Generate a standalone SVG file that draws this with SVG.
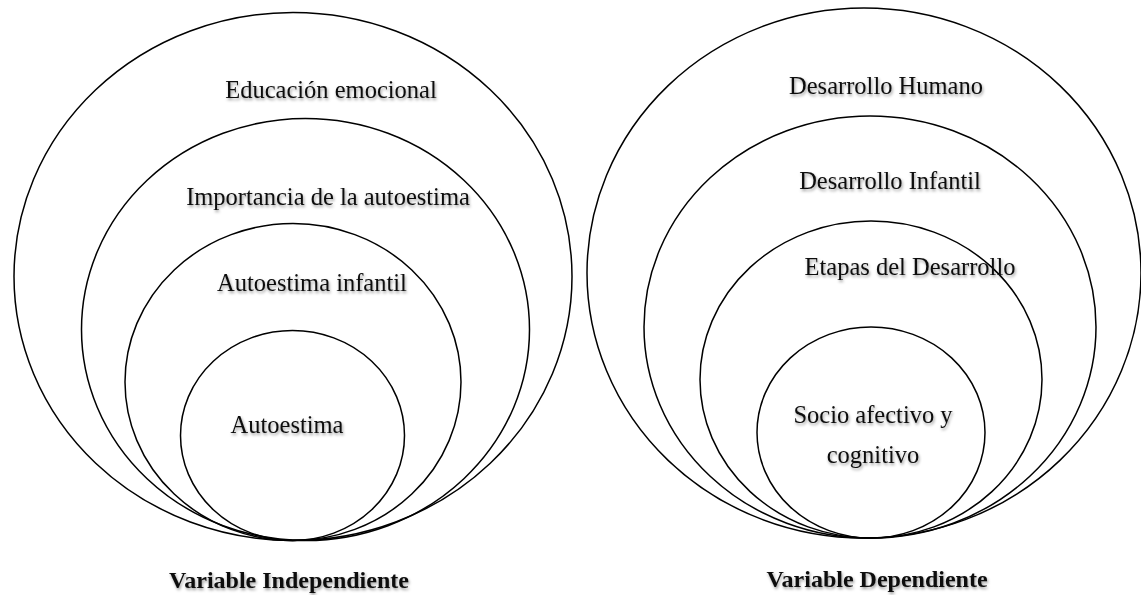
<svg xmlns="http://www.w3.org/2000/svg" width="1141" height="595" viewBox="0 0 1141 595">
<defs>
<style>
.ring{fill:none;stroke:#000;stroke-width:1.5}
.t{font-family:"Liberation Serif","Times New Roman",serif;font-size:24.5px;fill:#111;text-anchor:middle;filter:url(#sh)}
.lbl{font-family:"Liberation Serif","Times New Roman",serif;font-size:24px;font-weight:bold;fill:#111;text-anchor:middle;filter:url(#sh)}
</style>
<filter id="sh" x="-10%" y="-30%" width="120%" height="170%">
<feDropShadow dx="1" dy="2" stdDeviation="1.5" flood-color="#000" flood-opacity="0.4"/>
</filter>
</defs>
<rect width="1141" height="595" fill="#fff"/>
<g id="left-group">
<g id="educacion-emocional"><ellipse class="ring" cx="293" cy="276.5" rx="279" ry="264"/><text class="t" x="331" y="98">Educación emocional</text></g>
<g id="importancia-autoestima"><ellipse class="ring" cx="305.5" cy="329.5" rx="224" ry="211"/><text class="t" x="328" y="205">Importancia de la autoestima</text></g>
<g id="autoestima-infantil"><ellipse class="ring" cx="293" cy="382" rx="168" ry="158.5"/><text class="t" x="312" y="291">Autoestima infantil</text></g>
<g id="autoestima"><ellipse class="ring" cx="292.5" cy="435.5" rx="112" ry="105"/><text class="t" x="287" y="433">Autoestima</text></g>
<text id="label-independiente" class="lbl" x="289" y="588">Variable Independiente</text>
</g>
<g id="right-group">
<g id="desarrollo-humano"><ellipse class="ring" cx="864" cy="273" rx="277" ry="265"/><text class="t" x="886" y="94">Desarrollo Humano</text></g>
<g id="desarrollo-infantil"><ellipse class="ring" cx="870" cy="327" rx="226" ry="211"/><text class="t" x="890" y="189">Desarrollo Infantil</text></g>
<g id="etapas-desarrollo"><ellipse class="ring" cx="871" cy="379.5" rx="171" ry="158.5"/><text class="t" x="910" y="275">Etapas del Desarrollo</text></g>
<g id="socio-afectivo"><ellipse class="ring" cx="871" cy="432.5" rx="114" ry="105.5"/><text class="t" x="873" y="423">Socio afectivo y</text><text class="t" x="873" y="463">cognitivo</text></g>
<text id="label-dependiente" class="lbl" x="877" y="587">Variable Dependiente</text>
</g>
<g id="connectors"/>
</svg>
